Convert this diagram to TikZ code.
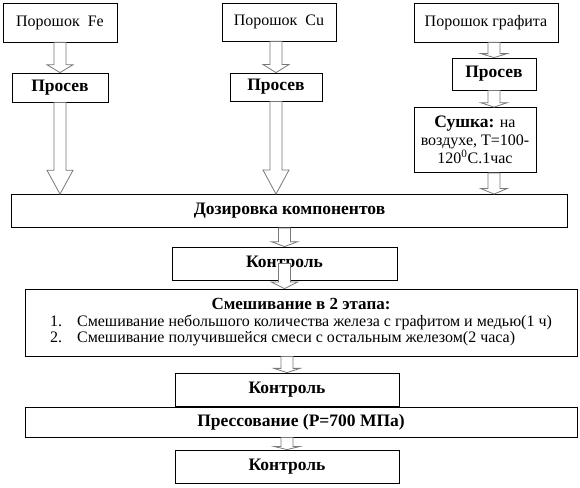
\documentclass[tikz,border=0pt]{standalone}
\usepackage{fontspec}
\setmainfont{Liberation Serif}
\usepackage{xcolor}
\usetikzlibrary{calc}
\definecolor{flowBlack}{RGB}{0,0,0}
\definecolor{flowGray}{RGB}{120,120,120}

% hollow block arrow from #1 down to #2
\newcommand{\flowarrow}[2]{%
  \path (#1) coordinate (arrS) (#2) coordinate (arrE);
  \draw[flow] ($(arrS)+(-6,0)$) -- ($(arrS)!0.74!(arrE)+(-6,0)$) -- ($(arrS)!0.74!(arrE)+(-13,0)$) -- (arrE)
    -- ($(arrS)!0.74!(arrE)+(13,0)$) -- ($(arrS)!0.74!(arrE)+(6,0)$) -- ($(arrS)+(6,0)$) -- cycle;}

\begin{document}
\begin{tikzpicture}[x=1pt, y=-1pt]
                    \tikzstyle{rawbox} = [draw=flowBlack, line width=0.8pt, fill=white, inner sep=0pt, font=\fontsize{16}{18}\selectfont]
                    \tikzstyle{box} = [draw=flowBlack, line width=0.8pt, fill=white, inner sep=0pt, font=\fontsize{17.5}{20}\selectfont\bfseries]
                    \tikzstyle{flow} = [draw=flowGray, line width=0.8pt, fill=white, line join=miter]
                    \useasboundingbox (0,0) rectangle (580,487);
                    % powders
                    \node[rawbox, minimum width=114, minimum height=39] (fe) at (60,22.5) {Порошок~ Fe};
                    \node[rawbox, minimum width=114, minimum height=38] (cu) at (279,22) {Порошок~ Cu};
                    \node[rawbox, minimum width=144, minimum height=39] (graphite) at (486,22.5) {Порошок графита};
                    % sieving
                    \node[box, minimum width=96, minimum height=29] (sievefe) at (60,87.5) {Просев};
                    \node[box, minimum width=92, minimum height=28] (sievecu) at (276,87) {Просев};
                    \node[box, minimum width=84, minimum height=32] (sievegr) at (494,74) {Просев};
                    \node[rawbox, minimum width=122, minimum height=65, align=center] (dry) at (475,140)
                        {{\fontsize{17.5}{18}\selectfont\bfseries Сушка:} на\\воздухе, Т=100-\\120\textsuperscript{0}С.1час};
                    % main line
                    \node[box, minimum width=556, minimum height=33] (dose) at (289.5,211) {Дозировка компонентов};
                    \node[box, minimum width=225, minimum height=33] (ctrla) at (284.5,263.5) {Контроль};
                    \node[rawbox, minimum width=552, minimum height=67] (mix) at (301,322.5) {%
                        \begin{tabular}{@{}r@{\hspace{15pt}}l@{}}
                        \multicolumn{2}{c}{\fontsize{17}{18}\selectfont\bfseries Смешивание в 2 этапа:}\\[-1.5pt]
                        1. & Смешивание небольшого количества железа с графитом и медью(1 ч)\\[-1.5pt]
                        2. & Смешивание получившейся смеси с остальным железом(2 часа)
                        \end{tabular}};
                    \node[box, minimum width=224, minimum height=33] (ctrlb) at (287,389.5) {Контроль};
                    \node[box, minimum width=552, minimum height=30] (press) at (301,422) {Прессование (Р=700 МПа)};
                    \node[box, minimum width=224, minimum height=33] (ctrlc) at (287,466.5) {Контроль};
                    % arrows
                    \flowarrow{fe.south}{fe.south |- sievefe.north}
                    \flowarrow{sievefe.south}{sievefe.south |- dose.north}
                    \flowarrow{sievecu.north |- cu.south}{sievecu.north}
                    \flowarrow{sievecu.south}{sievecu.south |- dose.north}
                    \flowarrow{sievegr.north |- graphite.south}{sievegr.north}
                    \flowarrow{sievegr.south}{sievegr.south |- dry.north}
                    \flowarrow{sievegr.south |- dry.south}{sievegr.south |- dose.north}
                    \flowarrow{ctrla.north |- dose.south}{ctrla.north}
                    \flowarrow{ctrla.center}{ctrla.center |- mix.north}
                    \flowarrow{ctrlb.north |- mix.south}{ctrlb.north}
                    \flowarrow{ctrlc.north |- press.south}{ctrlc.north}
                \end{tikzpicture}
\end{document}
